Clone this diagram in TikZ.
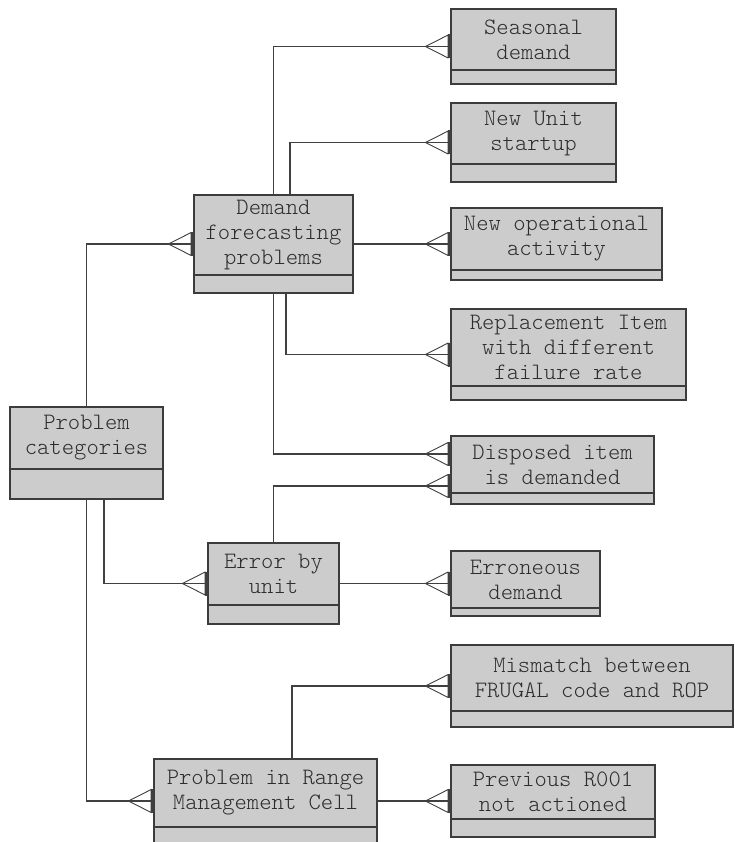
\documentclass[tikz,border=0pt]{standalone}
\usepackage{tikz}
\usetikzlibrary{arrows.meta, fit, positioning}
\definecolor{boxline}{RGB}{60,60,60}
\definecolor{linkgray}{RGB}{64,64,64}
\definecolor{textgray}{RGB}{45,45,45}
\tikzset{
	titlebox/.style={draw=boxline, fill=gray!40, line width=1.2pt, outer sep=0pt, inner sep=0pt,
		align=center, anchor=north west, text=textgray,
		font={\ttfamily\fontseries{l}\fontsize{23.5}{25}\selectfont}}
}
\tikzset{
	compbox/.style={draw=boxline, fill=gray!40, line width=1.2pt, outer sep=0pt, inner sep=0pt, anchor=north}
}
\tikzset{
	wholebox/.style={inner sep=0pt, outer sep=0pt}
}
\tikzset{
	manylink/.style={draw=linkgray, line width=1.3pt,
		-{Triangle[open, reversed, length=24pt, width=24pt, line width=0.9pt] Bar[width=24pt, line width=2.6pt]}}
}

\begin{document}
\begin{tikzpicture}[x=1pt, y=-1pt]
      \path[use as bounding box, fill=white] (0,0) rectangle (734,842);
      \node[titlebox, minimum width=165pt, minimum height=61pt] (sd-t) at (451,9) {Seasonal\\demand};
      \node[compbox, minimum width=165pt, minimum height=14pt] (sd-c) at (sd-t.south) {};
      \node[wholebox, fit=(sd-t)(sd-c)] (sd) {};
      \node[titlebox, minimum width=165pt, minimum height=61pt] (nu-t) at (451,103) {New Unit\\startup};
      \node[compbox, minimum width=165pt, minimum height=18pt] (nu-c) at (nu-t.south) {};
      \node[wholebox, fit=(nu-t)(nu-c)] (nu) {};
      \node[titlebox, minimum width=211pt, minimum height=62pt] (no-t) at (451,208) {New operational\\activity};
      \node[compbox, minimum width=211pt, minimum height=10pt] (no-c) at (no-t.south) {};
      \node[wholebox, fit=(no-t)(no-c)] (no) {};
      \node[titlebox, minimum width=235pt, minimum height=77pt] (ri-t) at (451,309) {Replacement Item\\with different\\failure rate};
      \node[compbox, minimum width=235pt, minimum height=14pt] (ri-c) at (ri-t.south) {};
      \node[wholebox, fit=(ri-t)(ri-c)] (ri) {};
      \node[titlebox, minimum width=203pt, minimum height=57pt] (di-t) at (451,436) {Disposed item\\is demanded};
      \node[compbox, minimum width=203pt, minimum height=11pt] (di-c) at (di-t.south) {};
      \node[wholebox, fit=(di-t)(di-c)] (di) {};
      \node[titlebox, minimum width=149pt, minimum height=57pt] (ed-t) at (451,551) {Erroneous\\demand};
      \node[compbox, minimum width=149pt, minimum height=8pt] (ed-c) at (ed-t.south) {};
      \node[wholebox, fit=(ed-t)(ed-c)] (ed) {};
      \node[titlebox, minimum width=282pt, minimum height=66pt] (mf-t) at (451,645) {Mismatch between\\FRUGAL code and ROP};
      \node[compbox, minimum width=282pt, minimum height=16pt] (mf-c) at (mf-t.south) {};
      \node[wholebox, fit=(mf-t)(mf-c)] (mf) {};
      \node[titlebox, minimum width=204pt, minimum height=54pt] (pr-t) at (451,765) {Previous R001\\not actioned};
      \node[compbox, minimum width=204pt, minimum height=18pt] (pr-c) at (pr-t.south) {};
      \node[wholebox, fit=(pr-t)(pr-c)] (pr) {};
      \node[titlebox, minimum width=159pt, minimum height=80pt] (dfp-t) at (194,195) {Demand\\forecasting\\problems};
      \node[compbox, minimum width=159pt, minimum height=18pt] (dfp-c) at (dfp-t.south) {};
      \node[wholebox, fit=(dfp-t)(dfp-c)] (dfp) {};
      \node[titlebox, minimum width=153pt, minimum height=62pt] (pc-t) at (10,407) {Problem\\categories};
      \node[compbox, minimum width=153pt, minimum height=30pt] (pc-c) at (pc-t.south) {};
      \node[wholebox, fit=(pc-t)(pc-c)] (pc) {};
      \node[titlebox, minimum width=131pt, minimum height=62pt] (eu-t) at (208,543) {Error by\\unit};
      \node[compbox, minimum width=131pt, minimum height=19pt] (eu-c) at (eu-t.south) {};
      \node[wholebox, fit=(eu-t)(eu-c)] (eu) {};
      \node[titlebox, minimum width=223pt, minimum height=68pt] (rm-t) at (154,759) {Problem in Range\\Management Cell};
      \node[compbox, minimum width=223pt, minimum height=16pt] (rm-c) at (rm-t.south) {};
      \node[wholebox, fit=(rm-t)(rm-c)] (rm) {};
      \draw[manylink] (dfp.north) |- (sd.west);
      \draw[manylink] ([xshift=16.5pt]dfp.north) |- (nu.west);
      \draw[manylink] (dfp.east) -- (no.west);
      \draw[manylink] ([xshift=12.5pt]dfp.south) |- (ri.west);
      \draw[manylink] (dfp.south) |- ([yshift=16pt]di.west);
      \draw[manylink] (eu.north) |- ([yshift=-16pt]di.west);
      \draw[manylink] (eu.east) -- (ed.west);
      \draw[manylink] (pc.north) |- (dfp.west);
      \draw[manylink] ([xshift=17.5pt]pc.south) |- (eu.west);
      \draw[manylink] (pc.south) |- (rm.west);
      \draw[manylink] ([xshift=26.5pt]rm.north) |- (mf.west);
      \draw[manylink] (rm.east) -- (pr.west);
    \end{tikzpicture}
\end{document}
